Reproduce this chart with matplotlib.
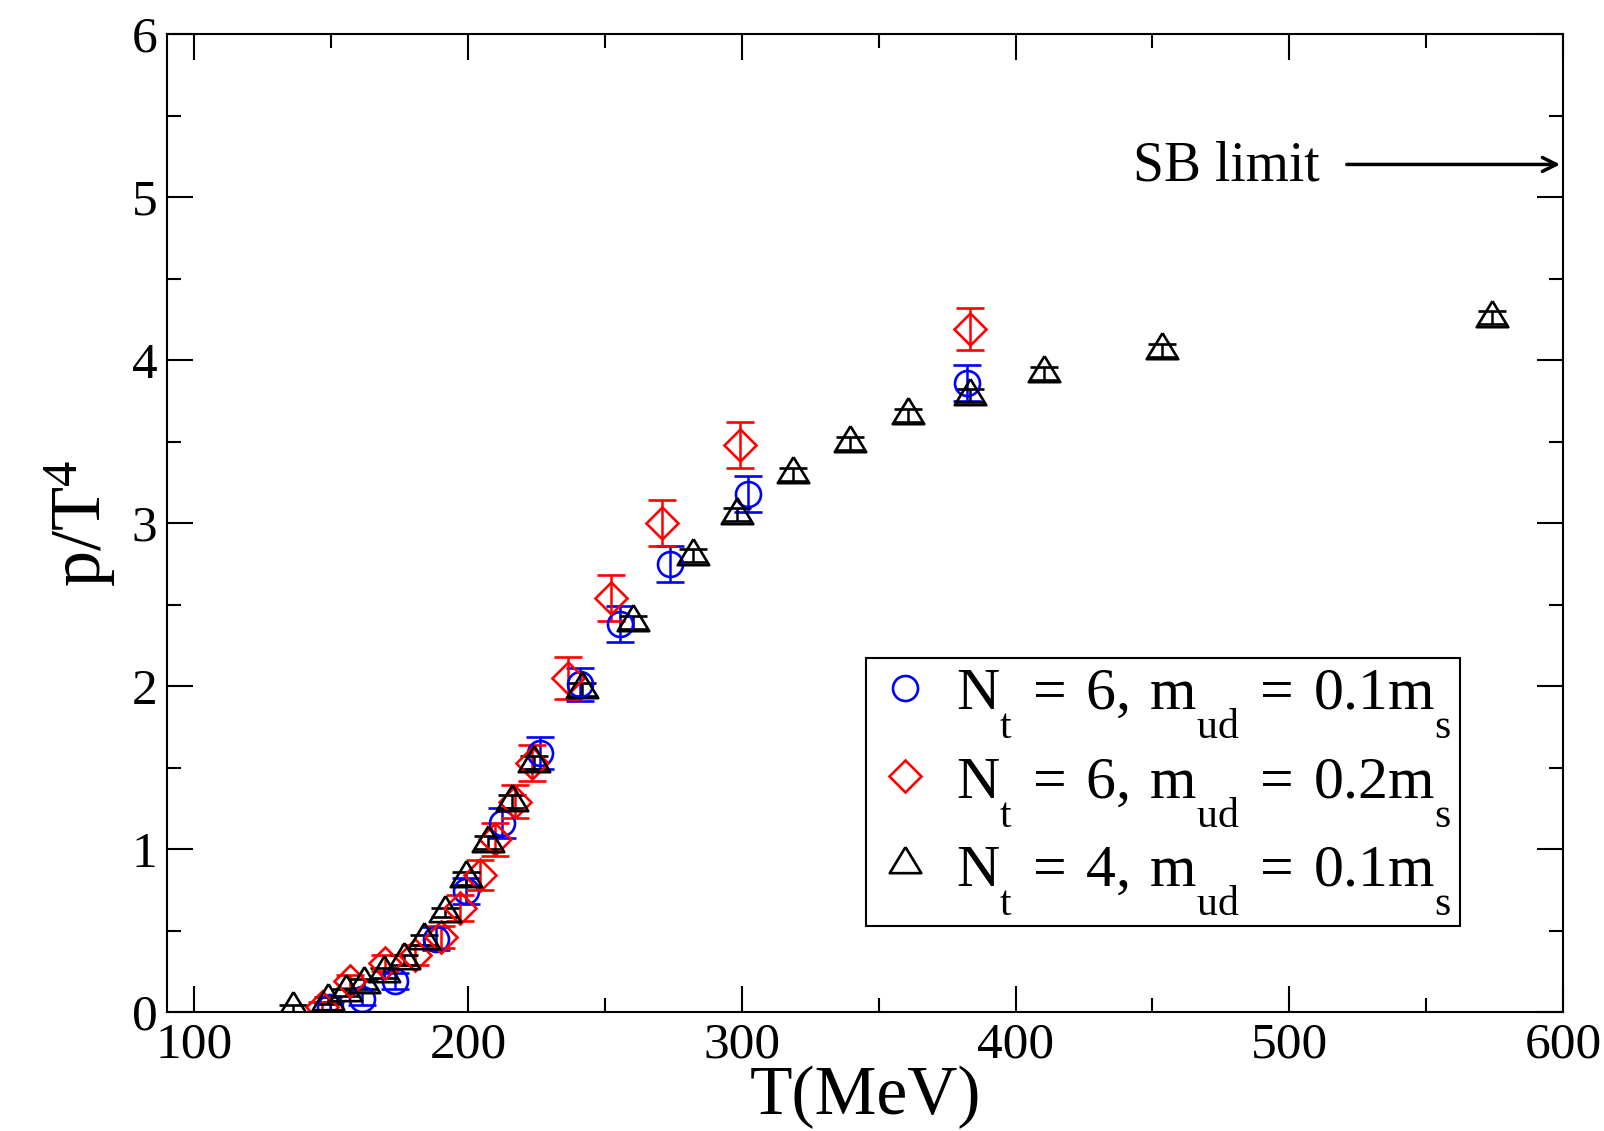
import matplotlib
matplotlib.use("Agg")
import matplotlib.pyplot as plt
from matplotlib.lines import Line2D
from matplotlib.ticker import MultipleLocator

plt.rcParams['font.family'] = ['Liberation Serif', 'DejaVu Serif']
plt.rcParams['mathtext.fontset'] = 'custom'
plt.rcParams['mathtext.rm'] = 'Liberation Serif'
plt.rcParams['mathtext.it'] = 'Liberation Serif'

# drop subscripts lower, like the original grace output
try:
    from matplotlib import _mathtext
    _mathtext.FontConstantsBase.sub1 = 1.1
except Exception:
    pass

# N_t = 6, m_ud = 0.1 m_s  (blue circles)
T_b = [149.5, 161.1, 173.3, 188.2, 199.4, 212.3, 226.2, 240.8, 255.4, 273.7, 302.3, 382.1]
p_b = [0.03, 0.08, 0.19, 0.45, 0.74, 1.16, 1.59, 2.01, 2.38, 2.75, 3.18, 3.86]
e_b = [0.03, 0.04, 0.05, 0.07, 0.08, 0.09, 0.10, 0.10, 0.11, 0.11, 0.11, 0.11]

# N_t = 6, m_ud = 0.2 m_s  (red diamonds)
T_r = [146.5, 157.0, 169.5, 180.5, 190.0, 197.0, 204.3, 210.0, 217.0, 223.2, 236.6, 252.4, 271.0, 299.3, 383.2]
p_r = [0.03, 0.19, 0.30, 0.35, 0.46, 0.64, 0.84, 1.06, 1.29, 1.53, 2.05, 2.54, 3.00, 3.48, 4.19]
e_r = [0.03, 0.04, 0.05, 0.06, 0.07, 0.08, 0.09, 0.10, 0.10, 0.11, 0.13, 0.14, 0.14, 0.14, 0.13]

# N_t = 4, m_ud = 0.1 m_s  (black triangles)
T_k = [136.1, 148.9, 155.4, 162.1, 169.2, 176.6, 183.9, 191.5, 199.4, 207.3, 215.9, 224.1,
       241.8, 260.1, 282.0, 298.3, 318.7, 339.5, 360.7, 383.2, 410.5, 453.4, 574.1]
p_k = [0.02, 0.07, 0.12, 0.17, 0.24, 0.32, 0.44, 0.61, 0.82, 1.04, 1.29, 1.53,
       1.98, 2.39, 2.80, 3.05, 3.30, 3.49, 3.66, 3.78, 3.92, 4.06, 4.26]
e_k = [0.02, 0.02, 0.02, 0.03, 0.03, 0.03, 0.03, 0.03, 0.04, 0.04, 0.04, 0.04,
       0.04, 0.04, 0.04, 0.04, 0.04, 0.04, 0.04, 0.04, 0.04, 0.04, 0.04]

labels = [r'$\mathrm{N_t\>=\>6,\>m_{ud}\>=\>0.1m_s}$',
          r'$\mathrm{N_t\>=\>6,\>m_{ud}\>=\>0.2m_s}$',
          r'$\mathrm{N_t\>=\>4,\>m_{ud}\>=\>0.1m_s}$']

# triangle centred on its centroid, wider than tall
tri = [(0, 0.55), (-0.5, -0.275), (0.5, -0.275), (0, 0.55)]

fig = plt.figure(figsize=(16.04, 11.31), dpi=100)
ax = fig.add_axes([0.1041, 0.1052, 0.8703, 0.8647])

common = dict(ls='none', mfc='none', mew=1.9, elinewidth=1.8, capsize=10, capthick=1.8)
ax.errorbar(T_b, p_b, yerr=e_b, marker='o', ms=18, color='blue', mec='blue', **common)
ax.errorbar(T_r, p_r, yerr=e_r, marker='D', ms=16, color='red', mec='red', **common)
ax.errorbar(T_k, p_k, yerr=e_k, marker=tri, ms=25, color='black', mec='black', **common)

ax.set_xlim(90, 600)
ax.set_ylim(0, 6)
ax.xaxis.set_major_locator(MultipleLocator(100))
ax.xaxis.set_minor_locator(MultipleLocator(50))
ax.yaxis.set_major_locator(MultipleLocator(1))
ax.yaxis.set_minor_locator(MultipleLocator(0.5))
ax.tick_params(which='both', direction='in', top=True, right=True, width=1.5)
ax.tick_params(which='major', length=19, labelsize=37, pad=7)
ax.tick_params(which='minor', length=10)
for s in ax.spines.values():
    s.set_linewidth(1.5)

ax.set_xlabel('T(MeV)', fontsize=50, labelpad=-2)
ax.set_ylabel(r'$\mathrm{p/T^4}$', fontsize=52, labelpad=10)

ax.annotate('', xy=(600, 5.2), xytext=(520, 5.2),
            arrowprops=dict(arrowstyle='->', lw=2.5, color='black', mutation_scale=25))
ax.text(511, 5.10, 'SB limit', fontsize=40, ha='right', va='baseline')

handles = [
    Line2D([], [], ls='none', marker='o', ms=18, mfc='none', mec='blue', mew=1.9),
    Line2D([], [], ls='none', marker='D', ms=16, mfc='none', mec='red', mew=1.9),
    Line2D([], [], ls='none', marker=tri, ms=25, mfc='none', mec='black', mew=1.9),
]
leg = ax.legend(handles, labels, loc='lower left', bbox_to_anchor=(0.5007, 0.088),
                borderaxespad=0, fontsize=43, handlelength=1.0, handletextpad=0.35,
                borderpad=0.15, labelspacing=0.25, fancybox=False, framealpha=1,
                edgecolor='black')
leg.get_frame().set_linewidth(1.5)

fig.savefig('out.png', dpi=100)
